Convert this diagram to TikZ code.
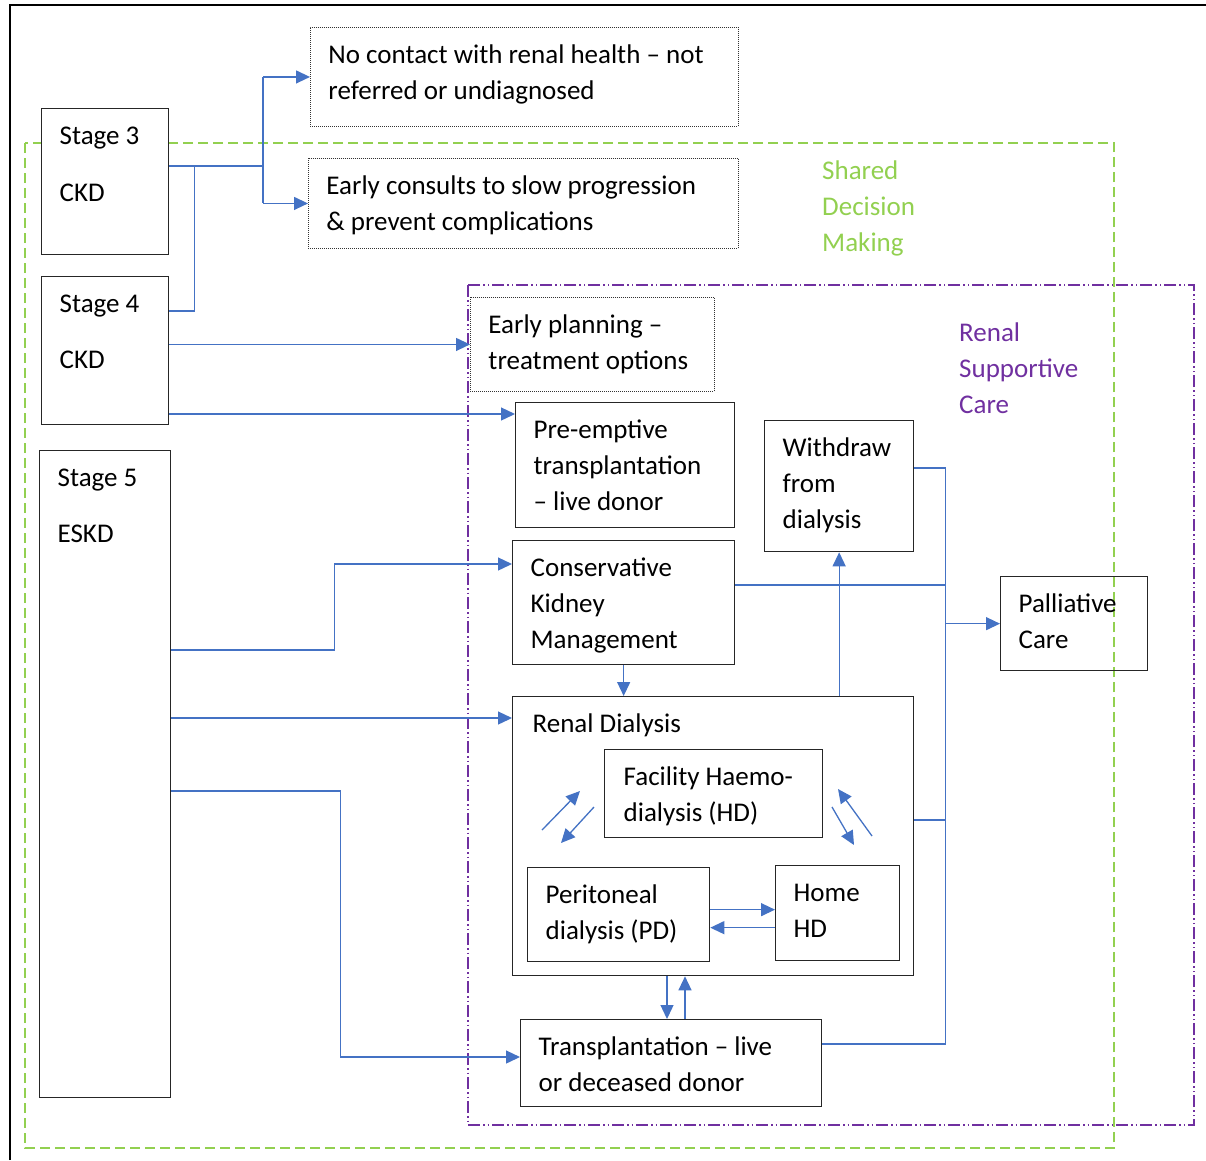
\documentclass[tikz,border=0pt]{standalone}
\usepackage{fontspec}
\setmainfont{Carlito}
\usetikzlibrary{arrows.meta}
\definecolor{sdmgreen}{HTML}{92D050}
\definecolor{rscpurple}{HTML}{7030A0}
\definecolor{flowblue}{HTML}{4472C4}
\begin{document}
\begin{tikzpicture}[x=1pt, y=-1pt,
    font=\fontsize{27pt}{36pt}\selectfont,
    box/.style={draw=black!85, line width=1.3pt, fill=white, anchor=north west,
      align=flush left, inner xsep=18pt, inner ysep=0pt, text height=36pt},
    notebox/.style={box, draw=black!80, line width=0.9pt, dash pattern=on 1pt off 1pt},
    zone/.style={anchor=base west, align=flush left, inner sep=0pt, text width=160pt},
    link/.style={draw=flowblue, line width=1.3pt},
    flow/.style={link, -{Triangle[length=14pt,width=13pt]}}]
    \useasboundingbox (0,0) rectangle (1206,1160);
    \draw[line width=2.5pt] (10,1160) -- (10,5) -- (1206,5);

    % zones
    \draw[sdmgreen, line width=1.3pt, dash pattern=on 10pt off 5pt] (25,143) rectangle (1114,1148);
    \draw[rscpurple, line width=1.3pt, dash pattern=on 12pt off 3pt on 1.5pt off 3pt on 1.5pt off 3pt] (468,285) rectangle (1194,1125);
    \node[zone, text=sdmgreen] (sdm) at (822,179) {Shared\\Decision\\Making};
    \node[zone, text=rscpurple] (rsc) at (959,341) {Renal\\Supportive\\Care};

    % stages
    \node[box, text width=91pt, text depth=110pt] (s3) at (41,108) {Stage 3\\[21pt]CKD};
    \node[box, text width=91pt, text depth=112pt] (s4) at (41,276) {Stage 4\\[20pt]CKD};
    \node[box, text width=95pt, text depth=611pt] (s5) at (39,450) {Stage 5\\[20pt]ESKD};

    % pathways
    \node[notebox, text width=392pt, text depth=63pt] (nocontact) at (310,27) {No contact with renal health -- not\\referred or undiagnosed};
    \node[notebox, text width=394pt, text depth=54pt] (consult) at (308,158) {Early consults to slow progression\\\& prevent complications};
    \node[notebox, text width=208pt, text depth=58pt] (planning) at (470,297) {Early planning --\\treatment options};
    \node[box, text width=183pt, text depth=89pt] (preempt) at (515,402) {Pre-emptive\\transplantation\\-- live donor};
    \node[box, text width=113pt, text depth=95pt] (withdraw) at (764,420) {Withdraw\\from\\dialysis};
    \node[box, text width=186pt, text depth=88pt] (conserv) at (512,540) {Conservative\\Kidney\\Management};
    \node[box, fill=none, text width=111pt, text depth=58pt] (palliative) at (1000,576) {Palliative\\Care};
    \node[box, inner xsep=20pt, text width=361pt, text depth=243pt] (dialysis) at (512,696) {Renal Dialysis};
    \node[box, inner xsep=19pt, text width=180pt, text depth=52pt] (facility) at (604,749) {Facility Haemo-\\dialysis (HD)};
    \node[box, text width=146pt, text depth=58pt] (peritoneal) at (527,867) {Peritoneal\\dialysis (PD)};
    \node[box, text width=88pt, text depth=59pt] (homehd) at (775,865) {Home\\HD};
    \node[box, text width=265pt, text depth=51pt] (transplant) at (520,1019) {Transplantation -- live\\or deceased donor};

    % stage 3 and 4 branches
    \coordinate (fork) at (263,166);
    \draw[link] ([yshift=-58pt]s3.north east) -- (fork);
    \draw[link] ([yshift=-35pt]s4.north east) -- ++(25,0) |- (fork);
    \draw[link] (fork |- nocontact.west) -- (fork |- consult.west);
    \draw[flow] (fork |- nocontact.west) -- (nocontact.west);
    \draw[flow] (fork |- consult.west) -- (consult.west);
    \draw[flow] (s4.east |- planning.west) -- (planning.west);
    \coordinate (pin) at ([yshift=-12pt]preempt.north west);
    \draw[flow] (s4.east |- pin) -- (pin);

    % stage 5 branches
    \coordinate (cin) at ([yshift=-24pt]conserv.north west);
    \coordinate (din) at ([yshift=-22pt]dialysis.north west);
    \coordinate (tin) at ([yshift=-38pt]transplant.north west);
    \draw[flow] ([yshift=-200pt]s5.north east) -- ++(163,0) |- (cin);
    \draw[flow] (s5.east |- din) -- (din);
    \draw[flow] ([yshift=-341pt]s5.north east) -- ++(169,0) |- (tin);

    % between treatments
    \draw[flow] (conserv.south) -- (dialysis.north -| conserv.south);
    \draw[flow] (dialysis.north -| withdraw.south) -- (withdraw.south);
    \coordinate (tdown) at ([xshift=147pt]transplant.north west);
    \coordinate (tup) at ([xshift=165pt]transplant.north west);
    \draw[flow] (tdown |- dialysis.south) -- (tdown);
    \draw[flow] (tup) -- (tup |- dialysis.south);

    % inside dialysis
    \coordinate (pdhi) at ([yshift=5pt]peritoneal.east);
    \coordinate (pdlo) at ([yshift=-13pt]peritoneal.east);
    \draw[flow] (pdhi) -- (pdhi -| homehd.west);
    \draw[flow] (pdlo -| homehd.west) -- (pdlo);
    \draw[flow] (542,830) -- (580,791);
    \draw[flow] (594,807) -- (561,843);
    \draw[flow] (832,807) -- (854,845);
    \draw[flow] (872,836) -- (838,789);

    % to palliative care
    \coordinate (bus) at ([xshift=31pt]withdraw.east);
    \coordinate (wout) at ([yshift=-48pt]withdraw.north east);
    \coordinate (cout) at ([yshift=-45pt]conserv.north east);
    \coordinate (dout) at ([yshift=-124pt]dialysis.north east);
    \coordinate (tout) at ([yshift=-25pt]transplant.north east);
    \draw[link] (wout) -| (bus |- tout) -- (tout);
    \draw[link] (cout) -- (bus |- cout);
    \draw[link] (dout) -- (bus |- dout);
    \draw[flow] (bus |- palliative.west) -- (palliative.west);
\end{tikzpicture}
\end{document}
